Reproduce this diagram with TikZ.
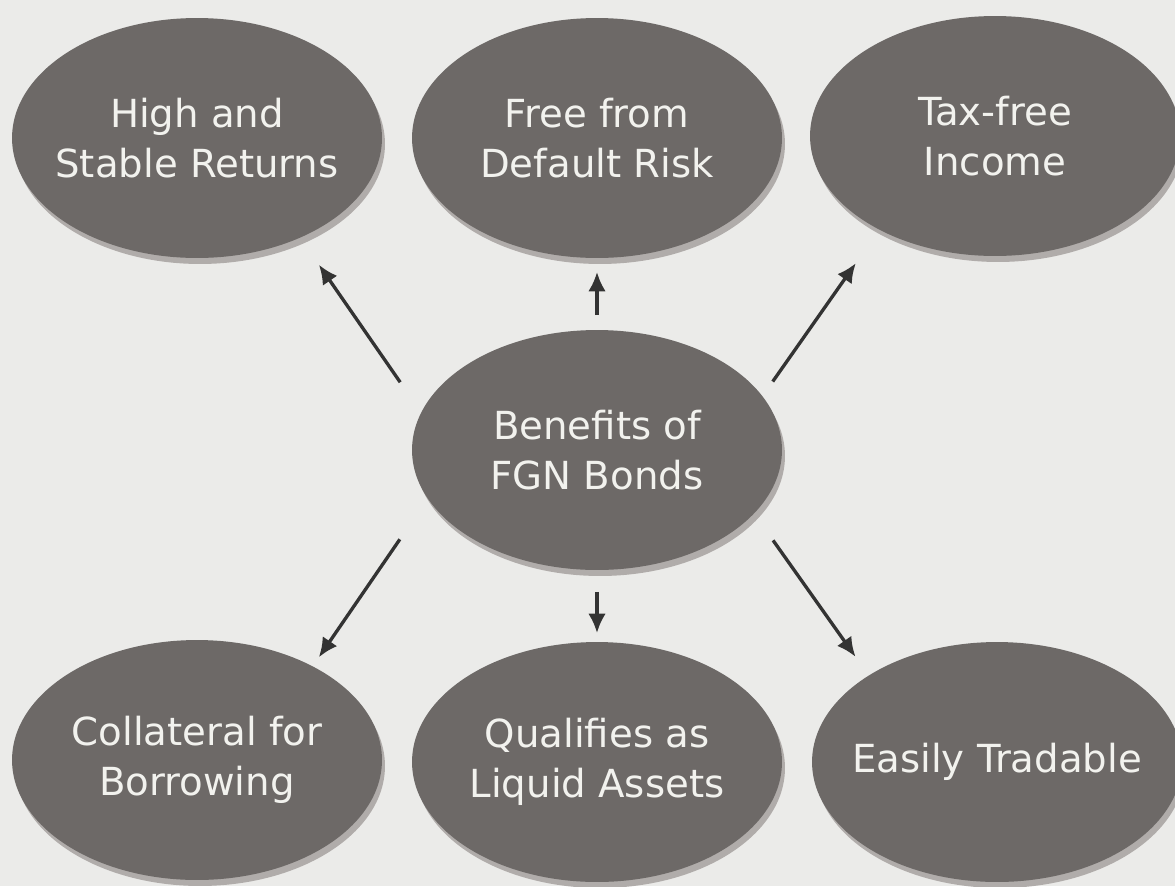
\documentclass[tikz,border=0pt]{standalone}
\usepackage{fontspec}
\setmainfont{DejaVu Sans}
\usepackage{tikz}
\usetikzlibrary{arrows.meta}
\usetikzlibrary{shapes.geometric}
\usetikzlibrary{shadows}
\definecolor{paper}{HTML}{EBEBE9}
\definecolor{blob}{HTML}{6D6967}
\definecolor{blobshade}{HTML}{B0ACAA}
\definecolor{blobtext}{HTML}{F2F2EE}
\definecolor{ink}{HTML}{333333}
\tikzset{
  benefit/.style={ellipse,fill=blob,text=blobtext,inner xsep=-2cm,inner ysep=-1cm,outer sep=0pt,
    minimum width=7.4cm,minimum height=4.8cm,align=center,
    font=\fontsize{22}{28.5}\selectfont,
    drop shadow={shadow xshift=0.06cm,shadow yshift=-0.12cm,fill=blobshade,opacity=1}},
  pointer/.style={ink,line width=1.9pt,-{Latex[length=11pt,width=10pt]}}
}

\begin{document}
\begin{tikzpicture}[x=0.02cm,y=-0.02cm]
    		\fill[paper] (0,0) rectangle (1175,886);
    		\useasboundingbox (0,0) rectangle (1175,886);
    		\node[benefit] (high) at (197,138) {High and\\Stable Returns};
    		\node[benefit] (free) at (597,138) {Free from\\Default Risk};
    		\node[benefit] (tax) at (995,136) {Tax-free\\Income};
    		\node[benefit] (fgn) at (597,450) {Benefits of\\FGN Bonds};
    		\node[benefit] (coll) at (197,760) {Collateral for\\Borrowing};
    		\node[benefit] (liq) at (597,762) {Qualifies as\\Liquid Assets};
    		\node[benefit] (trade) at (997,762) {Easily Tradable};
    		\draw[pointer,shorten <=0.74cm,shorten >=0.66cm] (fgn.168) -- (high.-44);
    		\draw[pointer,shorten <=0.3cm,shorten >=0.28cm] (fgn.90) -- (free.-90);
    		\draw[pointer,shorten <=0.36cm,shorten >=0.82cm] (fgn.18) -- (tax.-141);
    		\draw[pointer,shorten <=0.99cm,shorten >=0.22cm] (fgn.196) -- (coll.39);
    		\draw[pointer,shorten <=0.44cm,shorten >=0.18cm] (fgn.-90) -- (liq.90);
    		\draw[pointer,shorten <=0.66cm,shorten >=0.46cm] (fgn.-22) -- (trade.146);
    		\end{tikzpicture}
\end{document}
